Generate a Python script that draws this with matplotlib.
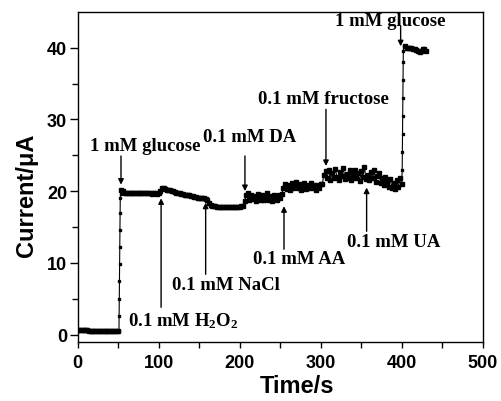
import matplotlib
matplotlib.use('Agg')
import matplotlib.pyplot as plt

plt.rcParams['mathtext.fontset'] = 'custom'
plt.rcParams['mathtext.rm'] = 'Liberation Serif:bold'
plt.rcParams['mathtext.default'] = 'rm'

# baseline before first glucose addition
t_base = [0, 2, 4, 6, 8, 10, 12, 14, 16, 18, 20, 22, 24, 26, 28, 30, 32, 34,
          36, 38, 40, 42, 44, 46, 48, 50]
i_base = [0.70, 0.66, 0.64, 0.62, 0.60, 0.58, 0.57, 0.56, 0.55, 0.54, 0.53,
          0.52, 0.52, 0.51, 0.50, 0.50, 0.49, 0.49, 0.48, 0.48, 0.47, 0.47,
          0.47, 0.46, 0.46, 0.46]

# first glucose step
t_rise1 = [51.0, 51.2, 51.4, 51.6, 51.8, 52.0, 52.2, 52.4, 52.6, 53.0]
i_rise1 = [0.46, 2.6, 5.0, 7.4, 9.8, 12.2, 14.6, 17.0, 19.0, 19.6]

# plateau up to H2O2
t_glu = [54, 56, 58, 60, 62, 64, 66, 68, 70, 72, 74, 76, 78, 80, 82, 84, 86,
         88, 90, 92, 94, 96, 98, 100]
i_glu = [20.1, 20.0, 19.8, 19.8, 19.7, 19.8, 19.8, 19.7, 19.7, 19.8, 19.7,
         19.7, 19.8, 19.7, 19.7, 19.7, 19.8, 19.7, 19.7, 19.6, 19.7, 19.7,
         19.6, 19.7]

# H2O2 and NaCl region
t_h2o2 = [102, 104, 106, 108, 110, 112, 114, 116, 118, 120, 122, 124, 126,
          128, 130, 132, 134, 136, 138, 140, 142, 144, 146, 148, 150, 152,
          154, 156, 158, 160, 162, 164, 166, 168]
i_h2o2 = [20.0, 20.4, 20.4, 20.3, 20.2, 20.2, 20.1, 20.0, 20.0, 19.9, 19.8,
          19.8, 19.7, 19.6, 19.6, 19.5, 19.5, 19.4, 19.4, 19.3, 19.3, 19.2,
          19.2, 19.1, 19.1, 19.0, 19.1, 19.0, 18.9, 18.7, 18.4, 18.1, 17.9,
          17.9]

t_nacl = [170, 172, 174, 176, 178, 180, 182, 184, 186, 188, 190, 192, 194,
          196, 198, 200, 202, 204]
i_nacl = [17.9, 17.8, 17.8, 17.8, 17.8, 17.8, 17.8, 17.8, 17.8, 17.8, 17.8,
          17.8, 17.8, 17.8, 17.8, 17.8, 17.9, 17.9]

# DA region
t_da = [206, 208, 210, 212, 214, 216, 218, 220, 222, 224, 226, 228, 230, 232,
        234, 236, 238, 240, 242, 244, 246, 248, 250]
i_da = [18.6, 19.4, 19.8, 18.7, 19.5, 18.9, 19.3, 18.6, 19.6, 19.0, 18.8,
        19.5, 18.7, 19.2, 19.7, 18.8, 19.3, 18.6, 19.4, 19.1, 18.7, 19.5, 19.0]

# AA region
t_aa = [252, 254, 256, 258, 260, 262, 264, 266, 268, 270, 272, 274, 276, 278,
        280, 282, 284, 286, 288, 290, 292, 294, 296, 298, 300]
i_aa = [19.6, 20.4, 21.0, 20.3, 20.9, 20.2, 21.2, 20.5, 20.8, 21.3, 20.4,
        21.0, 20.2, 20.7, 21.1, 20.3, 20.9, 20.5, 21.2, 20.4, 20.8, 20.1, 20.9,
        20.5, 21.0]

# fructose and UA region
t_fru = [302, 304, 306, 308, 310, 312, 314, 316, 318, 320, 322, 324, 326, 328,
         330, 332, 334, 336, 338, 340, 342, 344, 346, 348, 350, 352, 354, 356,
         358, 360, 362, 364, 366, 368, 370, 372, 374, 376, 378, 380, 382, 384,
         386, 388, 390, 392, 394, 396, 398, 400]
i_fru = [21.0, 22.3, 22.8, 21.8, 23.0, 21.6, 22.5, 21.9, 23.1, 22.0, 21.5,
         22.7, 22.1, 23.2, 21.7, 22.4, 21.8, 22.9, 21.6, 22.2, 23.0, 21.9, 22.5,
         21.4, 22.8, 22.0, 23.3, 21.7, 22.3, 21.5, 22.6, 21.8, 22.9, 21.3, 22.1,
         22.5, 21.2, 21.9, 20.8, 22.0, 21.3, 20.6, 21.7, 20.4, 21.2, 20.3, 21.5,
         20.6, 21.9, 21.0]

# second glucose step
t_rise2 = [400.6, 400.8, 401.0, 401.2, 401.4, 401.6, 401.8, 402.0, 402.5]
i_rise2 = [23.0, 25.5, 28.0, 30.5, 33.0, 35.5, 38.0, 39.6, 40.3]

t_end = [404, 406, 408, 410, 412, 414, 416, 418, 420, 422, 424, 426, 428, 430]
i_end = [40.2, 40.0, 39.9, 39.9, 39.9, 39.8, 39.8, 39.7, 39.5, 39.4, 39.6,
         39.8, 39.8, 39.6]

time = (t_base + t_rise1 + t_glu + t_h2o2 + t_nacl + t_da + t_aa + t_fru
        + t_rise2 + t_end)
current = (i_base + i_rise1 + i_glu + i_h2o2 + i_nacl + i_da + i_aa + i_fru
           + i_rise2 + i_end)
steady_t = t_base + t_glu + t_h2o2 + t_nacl + t_da + t_aa + t_fru + t_end
steady_i = i_base + i_glu + i_h2o2 + i_nacl + i_da + i_aa + i_fru + i_end

# annotations: label, text anchor (baseline), alignment, arrow start, arrow tip
labels = ['1 mM glucose', '0.1 mM DA', '0.1 mM fructose', '1 mM glucose',
          r'0.1 mM H$_2$O$_2$', '0.1 mM NaCl', '0.1 mM AA', '0.1 mM UA']
text_xy = [(15.2, 25.7), (154.7, 26.95), (222.6, 32.35), (317.7, 43.15),
           (61.7, 1.26), (116.0, 6.3), (330.0, 9.99), (332.1, 12.31)]
text_ha = ['left', 'left', 'left', 'left', 'left', 'left', 'right', 'left']
arrow_from = [(53.5, 24.9), (206.5, 24.9), (306.5, 31.4), (398.7, 43.0),
              (103, 3.8), (158, 8.4), (254.7, 11.9), (356.7, 14.4)]
arrow_to = [(53.5, 20.9), (206.5, 20.0), (306.5, 23.5), (398.7, 40.2),
            (103, 19.0), (158, 18.4), (254.7, 17.9), (356.7, 20.5)]

fig = plt.figure(figsize=(5.01, 4.02), dpi=100)
ax = fig.add_axes([0.155, 0.1475, 0.8085, 0.8205])

ax.plot(time, current, color='black', lw=0.8)
ax.plot(steady_t, steady_i, color='black', lw=0, marker='s', ms=3.4)
ax.plot(t_rise1 + t_rise2, i_rise1 + i_rise2, color='black', lw=0,
        marker='s', ms=2.0)

for lab, txy, ha, a0, a1 in zip(labels, text_xy, text_ha, arrow_from,
                                arrow_to):
    ax.text(txy[0], txy[1], lab, ha=ha, va='baseline', fontsize=13.5,
            fontweight='bold', family='Liberation Serif')
    ax.annotate('', xy=a1, xytext=a0,
                arrowprops=dict(arrowstyle='-|>', color='black', lw=1,
                                mutation_scale=8, shrinkA=0, shrinkB=0))

ax.set_xlim(0, 500)
ax.set_ylim(-1, 45)
ax.set_xticks([0, 100, 200, 300, 400, 500])
ax.set_yticks([0, 10, 20, 30, 40])
ax.set_xticks([50, 150, 250, 350, 450], minor=True)
ax.set_yticks([5, 15, 25, 35], minor=True)
ax.tick_params(axis='x', which='major', direction='out', length=4, width=1,
               labelsize=13, pad=5)
ax.tick_params(axis='x', which='minor', direction='out', length=4, width=1)
ax.tick_params(axis='y', which='major', direction='out', length=6, width=1,
               labelsize=13, pad=1.5)
ax.tick_params(axis='y', which='minor', direction='out', length=4, width=1)
for lab in ax.get_xticklabels() + ax.get_yticklabels():
    lab.set_fontweight('bold')
    lab.set_family('Liberation Sans')
for sp in ax.spines.values():
    sp.set_linewidth(1)

ax.set_xlabel('Time/s', fontsize=17, fontweight='bold',
              family='Liberation Sans')
ax.xaxis.set_label_coords(0.541, -0.099)
ax.set_ylabel('Current/\u03bcA', fontsize=17, fontweight='bold',
              family='Liberation Sans')
ax.yaxis.set_label_coords(-0.098, 0.448)

fig.savefig('out.png', dpi=100)
